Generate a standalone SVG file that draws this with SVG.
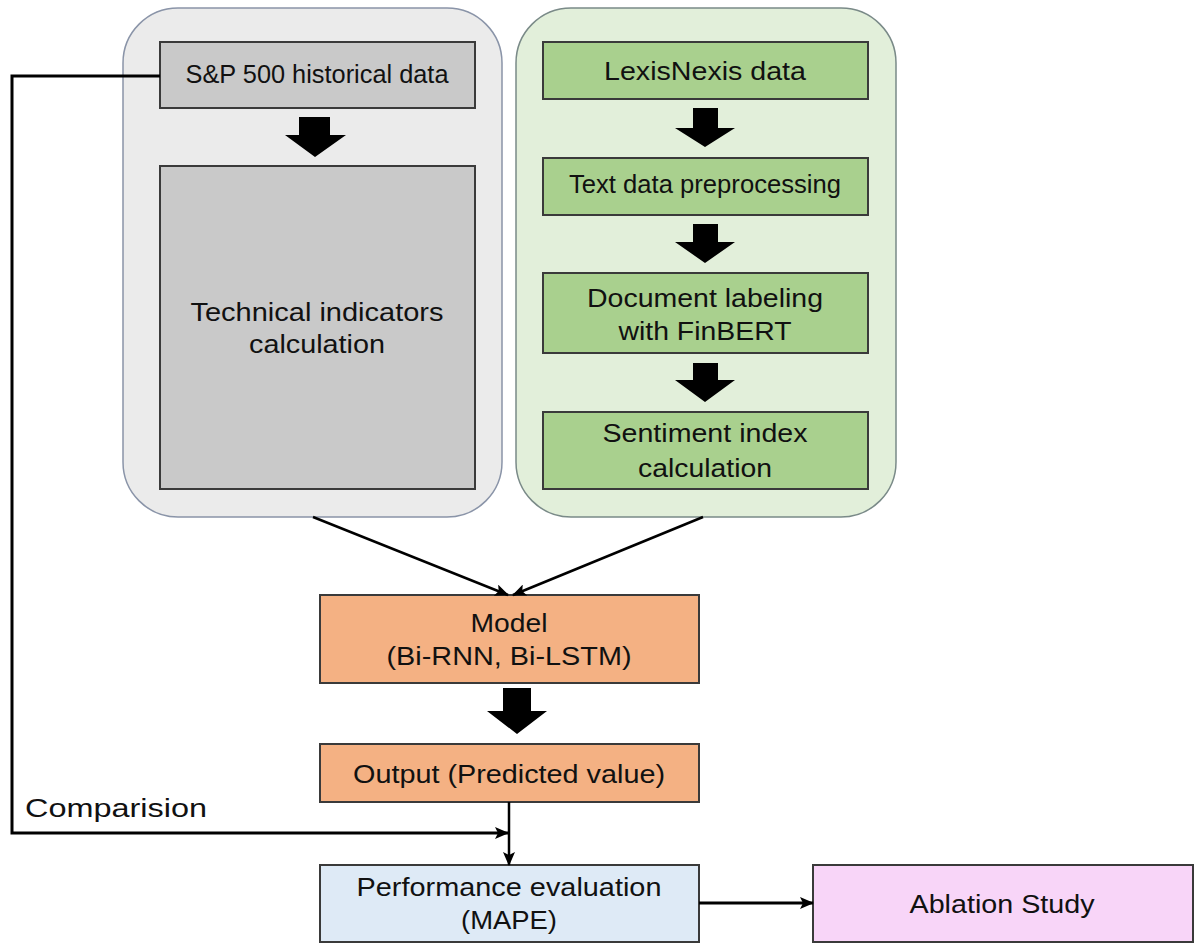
<svg xmlns="http://www.w3.org/2000/svg" width="1200" height="948" viewBox="0 0 1200 948">
<defs>
<marker id="ah" markerUnits="userSpaceOnUse" markerWidth="14" markerHeight="12" refX="13" refY="6" orient="auto">
<path d="M0,0 L14,6 L0,12 L3,6 Z" fill="#000"/>
</marker>
<style>
.t{font-family:"Liberation Sans",Arial,sans-serif;font-size:26px;fill:#111;text-anchor:middle}
.box{stroke:#3a3a3a;stroke-width:2}
.blk{fill:#000}
.ln{fill:none;stroke:#000}
</style>
</defs>
<rect width="1200" height="948" fill="#fff"/>

<g id="group-sp500">
<rect x="123" y="8" width="379" height="509" rx="55" ry="55" fill="#ebebeb" stroke="#8a94a8" stroke-width="1.5"/>
</g>
<g id="group-lexis">
<rect x="516" y="8" width="380" height="509" rx="55" ry="55" fill="#e2efda" stroke="#7a8a88" stroke-width="1.5"/>
</g>

<g id="node-sp500">
<rect class="box" x="160" y="42" width="315" height="66" fill="#c9c9c9"/>
<text class="t" x="317" y="83" font-size="25" textLength="263" lengthAdjust="spacingAndGlyphs">S&amp;P 500 historical data</text>
</g>
<g id="node-technical">
<rect class="box" x="160" y="166" width="315" height="323" fill="#c9c9c9"/>
<text class="t" x="317" y="321" textLength="253" lengthAdjust="spacingAndGlyphs">Technical  indicators</text>
<text class="t" x="317" y="353" textLength="136" lengthAdjust="spacingAndGlyphs">calculation</text>
</g>
<g id="node-lexis">
<rect class="box" x="543" y="42" width="325" height="57" fill="#a9d08e"/>
<text class="t" x="705" y="80" textLength="202" lengthAdjust="spacingAndGlyphs">LexisNexis  data</text>
</g>
<g id="node-preproc">
<rect class="box" x="543" y="158" width="325" height="57" fill="#a9d08e"/>
<text class="t" x="705" y="193" font-size="24" textLength="272" lengthAdjust="spacingAndGlyphs">Text data preprocessing</text>
</g>
<g id="node-labeling">
<rect class="box" x="543" y="273" width="325" height="80" fill="#a9d08e"/>
<text class="t" x="705" y="307" textLength="236" lengthAdjust="spacingAndGlyphs">Document  labeling</text>
<text class="t" x="705" y="340" textLength="173" lengthAdjust="spacingAndGlyphs">with FinBERT</text>
</g>
<g id="node-sentiment">
<rect class="box" x="543" y="412" width="325" height="77" fill="#a9d08e"/>
<text class="t" x="705" y="442" textLength="205" lengthAdjust="spacingAndGlyphs">Sentiment  index</text>
<text class="t" x="705" y="477" textLength="134" lengthAdjust="spacingAndGlyphs">calculation</text>
</g>
<g id="node-model">
<rect class="box" x="320" y="595" width="379" height="88" fill="#f4b183"/>
<text class="t" x="509" y="632" textLength="77" lengthAdjust="spacingAndGlyphs">Model</text>
<text class="t" x="509" y="665" textLength="245" lengthAdjust="spacingAndGlyphs">(Bi-RNN, Bi-LSTM)</text>
</g>
<g id="node-output">
<rect class="box" x="320" y="744" width="379" height="58" fill="#f4b183"/>
<text class="t" x="509" y="783" textLength="312" lengthAdjust="spacingAndGlyphs">Output  (Predicted value)</text>
</g>
<g id="node-performance">
<rect class="box" x="320" y="865" width="379" height="77" fill="#deeaf6"/>
<text class="t" x="509" y="896" textLength="305" lengthAdjust="spacingAndGlyphs">Performance  evaluation</text>
<text class="t" x="509" y="929" textLength="96" lengthAdjust="spacingAndGlyphs">(MAPE)</text>
</g>
<g id="node-ablation">
<rect class="box" x="813" y="865" width="380" height="77" fill="#f8d5f8"/>
<text class="t" x="1002" y="913" textLength="185" lengthAdjust="spacingAndGlyphs">Ablation  Study</text>
</g>

<g id="connectors">
<polygon class="blk" points="299,117 330,117 330,135 346,135 315,157 285,135 299,135"/>
<polygon class="blk" points="693,108 718,108 718,128 735,128 705,147 675,128 693,128"/>
<polygon class="blk" points="693,224 718,224 718,242 735,242 705,263 675,242 693,242"/>
<polygon class="blk" points="693,363 718,363 718,380 735,380 705,402 675,380 693,380"/>
<polygon class="blk" points="503,688 531,688 531,711 547,711 517,734 487,711 503,711"/>
<line class="ln" x1="313" y1="517" x2="508" y2="595" stroke-width="2.5" marker-end="url(#ah)"/>
<line class="ln" x1="703" y1="517" x2="513" y2="595" stroke-width="2.5" marker-end="url(#ah)"/>
<polyline class="ln" points="160,76 12,76 12,833 508,833" stroke-width="3" marker-end="url(#ah)"/>
<line class="ln" x1="509" y1="802" x2="509" y2="865" stroke-width="2.5" marker-end="url(#ah)"/>
<line class="ln" x1="699" y1="903" x2="813" y2="903" stroke-width="3" marker-end="url(#ah)"/>
</g>
<g id="label-comparision">
<text class="t" x="25" y="817" font-size="27" style="text-anchor:start" textLength="182" lengthAdjust="spacingAndGlyphs">Comparision</text>
</g>
</svg>
